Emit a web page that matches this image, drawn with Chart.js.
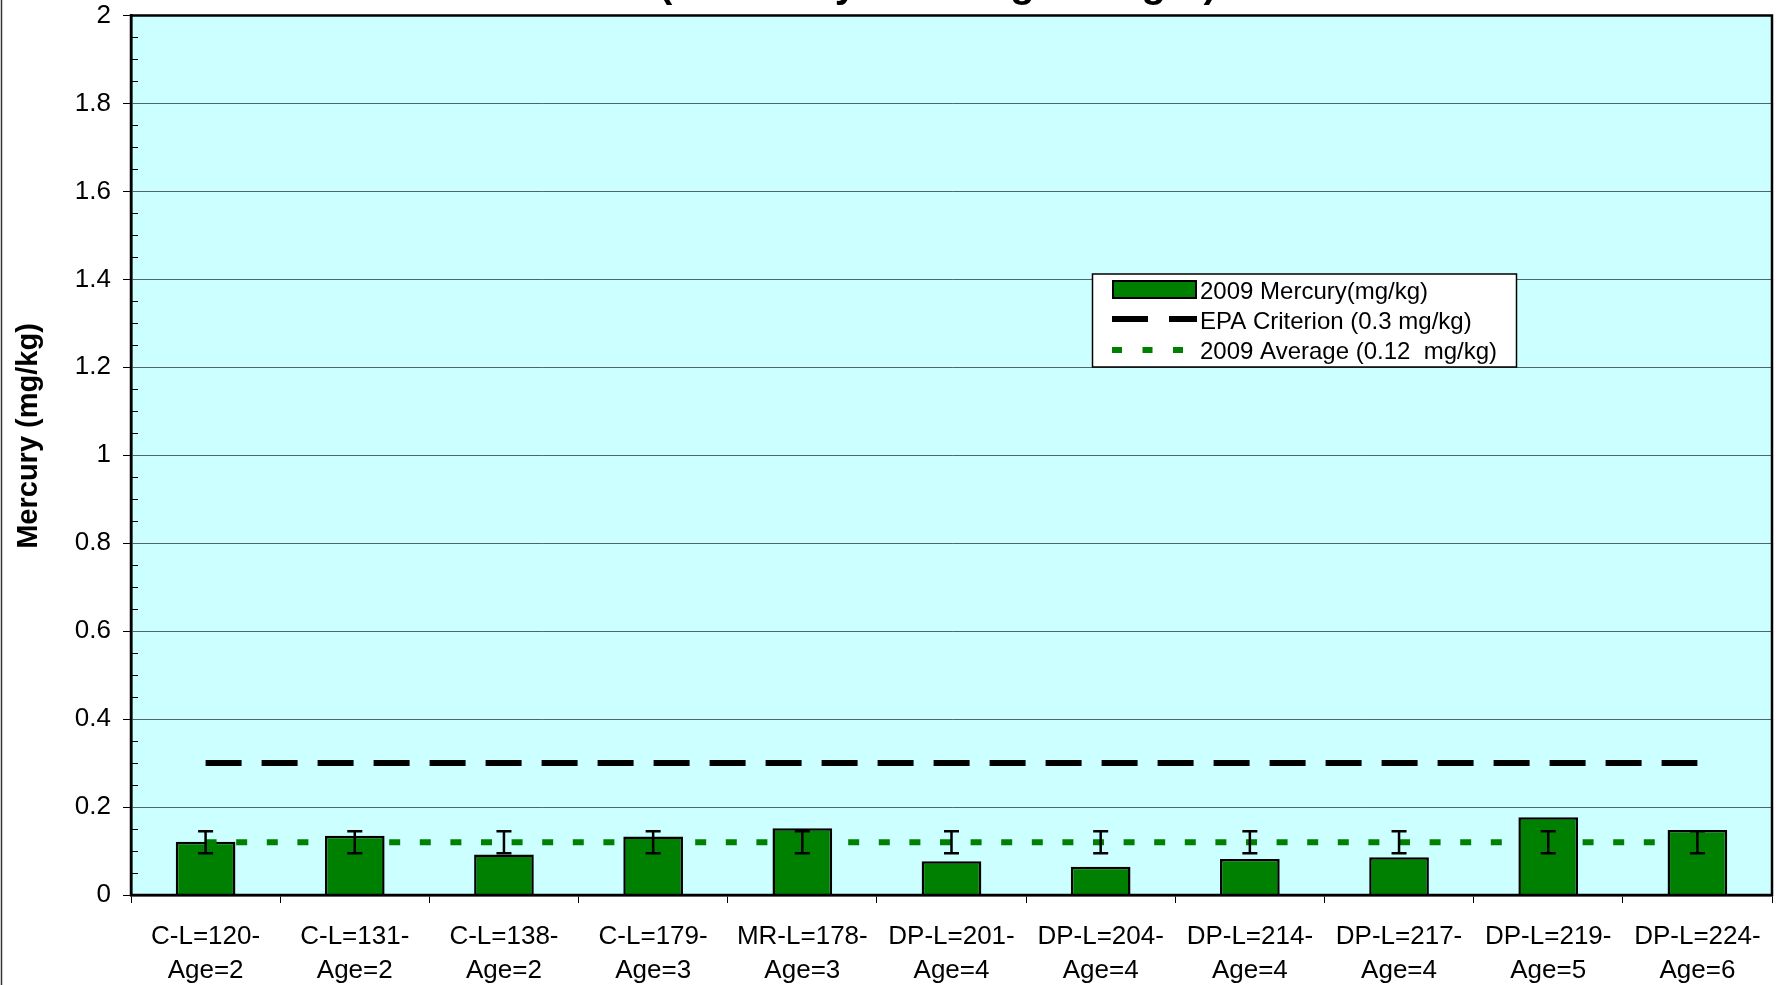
<!DOCTYPE html>
<html>
<head>
<meta charset="utf-8">
<title>Mercury by fish</title>
<script src="https://cdn.jsdelivr.net/npm/chart.js@4.4.1/dist/chart.umd.min.js"></script>
<style>
  html, body { margin: 0; padding: 0; background: #fff; overflow: hidden; }
  #wrap { width: 1777px; height: 985px; position: relative; }
</style>
</head>
<body>
<div id="wrap"><canvas id="myChart"></canvas></div>
<script>
// fish sample labels (location - length - age)
const categories = [
    ['C-L=120-', 'Age=2'],
    ['C-L=131-', 'Age=2'],
    ['C-L=138-', 'Age=2'],
    ['C-L=179-', 'Age=3'],
    ['MR-L=178-', 'Age=3'],
    ['DP-L=201-', 'Age=4'],
    ['DP-L=204-', 'Age=4'],
    ['DP-L=214-', 'Age=4'],
    ['DP-L=217-', 'Age=4'],
    ['DP-L=219-', 'Age=5'],
    ['DP-L=224-', 'Age=6']
];
const mercury2009 = [0.121, 0.135, 0.092, 0.133, 0.152, 0.077, 0.064, 0.082, 0.086, 0.177, 0.148];
const epaCriterion = [0.3, 0.3, 0.3, 0.3, 0.3, 0.3, 0.3, 0.3, 0.3, 0.3, 0.3];
const average2009 = [0.12, 0.12, 0.12, 0.12, 0.12, 0.12, 0.12, 0.12, 0.12, 0.12, 0.12];
// error bars (low / high ends)
const errLow = [0.095, 0.095, 0.095, 0.095, 0.095, 0.095, 0.095, 0.095, 0.095, 0.095, 0.095];
const errHigh = [0.145, 0.145, 0.145, 0.145, 0.145, 0.145, 0.145, 0.145, 0.145, 0.145, 0.145];
const yTicks = [0, 0.2, 0.4, 0.6, 0.8, 1, 1.2, 1.4, 1.6, 1.8, 2];
const seriesNames = ['2009 Mercury(mg/kg)', 'EPA Criterion (0.3 mg/kg)', '2009 Average (0.12  mg/kg)'];
const chartTitle = '(Sorted by Mean Age-Length)';
const yAxisTitle = 'Mercury (mg/kg)';

const FONT = 'Arial, "Liberation Sans", sans-serif';

const extras = {
    id: 'extras',
    beforeDraw(chart) {
        const {ctx, chartArea: a} = chart;
        ctx.save();
        ctx.fillStyle = '#ccffff';
        ctx.fillRect(a.left, a.top, a.right - a.left, a.bottom - a.top);
        ctx.restore();
    },
    afterDatasetsDraw(chart) {
        const {ctx, scales: {x, y}} = chart;
        ctx.save();
        ctx.strokeStyle = '#000';
        ctx.lineWidth = 2.5;
        errLow.forEach((lo, i) => {
            const px = x.getPixelForValue(i);
            const yl = y.getPixelForValue(lo);
            const yh = y.getPixelForValue(errHigh[i]);
            ctx.beginPath();
            ctx.moveTo(px, yl); ctx.lineTo(px, yh);
            ctx.moveTo(px - 7.5, yl); ctx.lineTo(px + 7.5, yl);
            ctx.moveTo(px - 7.5, yh); ctx.lineTo(px + 7.5, yh);
            ctx.stroke();
        });
        ctx.restore();
    },
    afterDraw(chart) {
        const {ctx, chartArea: a, scales: {y}} = chart;
        ctx.save();

        // minor ticks inside the plot
        ctx.strokeStyle = '#000';
        ctx.lineWidth = 1;
        for (let i = 0; i < yTicks.length - 1; i++) {
            const step = (yTicks[i + 1] - yTicks[i]) / 4;
            for (let k = 1; k < 4; k++) {
                const py = Math.round(y.getPixelForValue(yTicks[i] + step * k)) + 0.5;
                ctx.beginPath();
                ctx.moveTo(a.left, py);
                ctx.lineTo(a.left + 7, py);
                ctx.stroke();
            }
        }

        // plot frame
        ctx.lineWidth = 2.5;
        ctx.strokeRect(a.left, a.top, a.right - a.left, a.bottom - a.top);

        // outer chart border (left side only visible)
        ctx.strokeStyle = '#333';
        ctx.lineWidth = 1.5;
        ctx.beginPath();
        ctx.moveTo(1.5, 0);
        ctx.lineTo(1.5, chart.height);
        ctx.stroke();

        // title, mostly cut off at the top
        ctx.fillStyle = '#000';
        ctx.font = 'bold 40px ' + FONT;
        ctx.textAlign = 'center';
        ctx.textBaseline = 'alphabetic';
        ctx.fillText(chartTitle, 938, -3);

        // y axis title
        ctx.save();
        ctx.translate(29, 436);
        ctx.rotate(-Math.PI / 2);
        ctx.font = 'bold 29px ' + FONT;
        ctx.textBaseline = 'middle';
        ctx.fillText(yAxisTitle, 0, 0);
        ctx.restore();

        // legend
        const lx = 1092.5, ly = 274, lw = 424, lh = 93;
        ctx.fillStyle = '#fff';
        ctx.fillRect(lx, ly, lw, lh);
        ctx.strokeStyle = '#000';
        ctx.lineWidth = 1.5;
        ctx.strokeRect(lx, ly, lw, lh);

        ctx.fillStyle = '#008000';
        ctx.fillRect(1113, 281, 83, 17);
        ctx.lineWidth = 2;
        ctx.strokeRect(1113, 281, 83, 17);

        ctx.lineWidth = 6;
        ctx.lineCap = 'butt';
        ctx.setLineDash([36, 21]);
        ctx.strokeStyle = '#000';
        ctx.beginPath(); ctx.moveTo(1112, 319); ctx.lineTo(1197, 319); ctx.stroke();

        ctx.setLineDash([10, 20.5]);
        ctx.strokeStyle = '#008000';
        ctx.beginPath(); ctx.moveTo(1112, 350); ctx.lineTo(1197, 350); ctx.stroke();
        ctx.setLineDash([]);

        ctx.fillStyle = '#000';
        ctx.font = '24px ' + FONT;
        ctx.textAlign = 'left';
        ctx.textBaseline = 'middle';
        const rows = [292, 322, 352];
        seriesNames.forEach((name, i) => ctx.fillText(name, 1200, rows[i]));

        ctx.restore();
    }
};

const ctx = document.getElementById('myChart').getContext('2d');
const myChart = new Chart(ctx, {
    data: {
        labels: categories,
        datasets: [{
            type: 'bar',
            label: seriesNames[0],
            data: mercury2009,
            backgroundColor: '#008000',
            borderColor: '#000',
            borderWidth: 2.5,
            barPercentage: 0.4,
            categoryPercentage: 1.0,
            order: 2
        }, {
            type: 'line',
            label: seriesNames[1],
            data: epaCriterion,
            borderColor: '#000',
            borderWidth: 6,
            borderDash: [36, 20],
            borderCapStyle: 'butt',
            pointRadius: 0,
            fill: false,
            order: 1
        }, {
            type: 'line',
            label: seriesNames[2],
            data: average2009,
            borderColor: '#008000',
            borderWidth: 6,
            borderDash: [11, 19.6],
            borderCapStyle: 'butt',
            pointRadius: 0,
            fill: false,
            order: 0
        }]
    },
    options: {
        responsive: true,
        maintainAspectRatio: false,
        animation: false,
        layout: { padding: { top: 15.5, right: 5, left: 0, bottom: 0 } },
        plugins: {
            legend: { display: false },
            title: { display: false },
            tooltip: { enabled: false }
        },
        scales: {
            x: {
                grid: {
                    drawOnChartArea: false,
                    drawTicks: true,
                    tickLength: 8,
                    color: '#000',
                    offset: true
                },
                border: { color: '#000', width: 2.5 },
                ticks: {
                    color: '#000',
                    font: { family: FONT, size: 26, lineHeight: 1.3 },
                    padding: 17,
                    autoSkip: false,
                    maxRotation: 0
                },
                afterFit(scale) {
                    scale.height = 90;
                    scale.paddingLeft = 0;
                    scale.paddingRight = 0;
                }
            },
            y: {
                min: 0,
                max: 2,
                afterBuildTicks(scale) { scale.ticks = yTicks.map(v => ({value: v})); },
                grid: {
                    color: 'rgba(0,0,0,0.6)',
                    lineWidth: 1,
                    tickLength: 8,
                    tickColor: '#000'
                },
                border: { color: '#000', width: 2.5 },
                ticks: {
                    color: '#000',
                    font: { family: FONT, size: 26 },
                    padding: 12,
                    callback: v => String(v)
                },
                afterFit(scale) {
                    scale.width = 131;
                    scale.paddingTop = 0;
                    scale.paddingBottom = 0;
                }
            }
        }
    },
    plugins: [extras]
});
</script>
</body>
</html>
